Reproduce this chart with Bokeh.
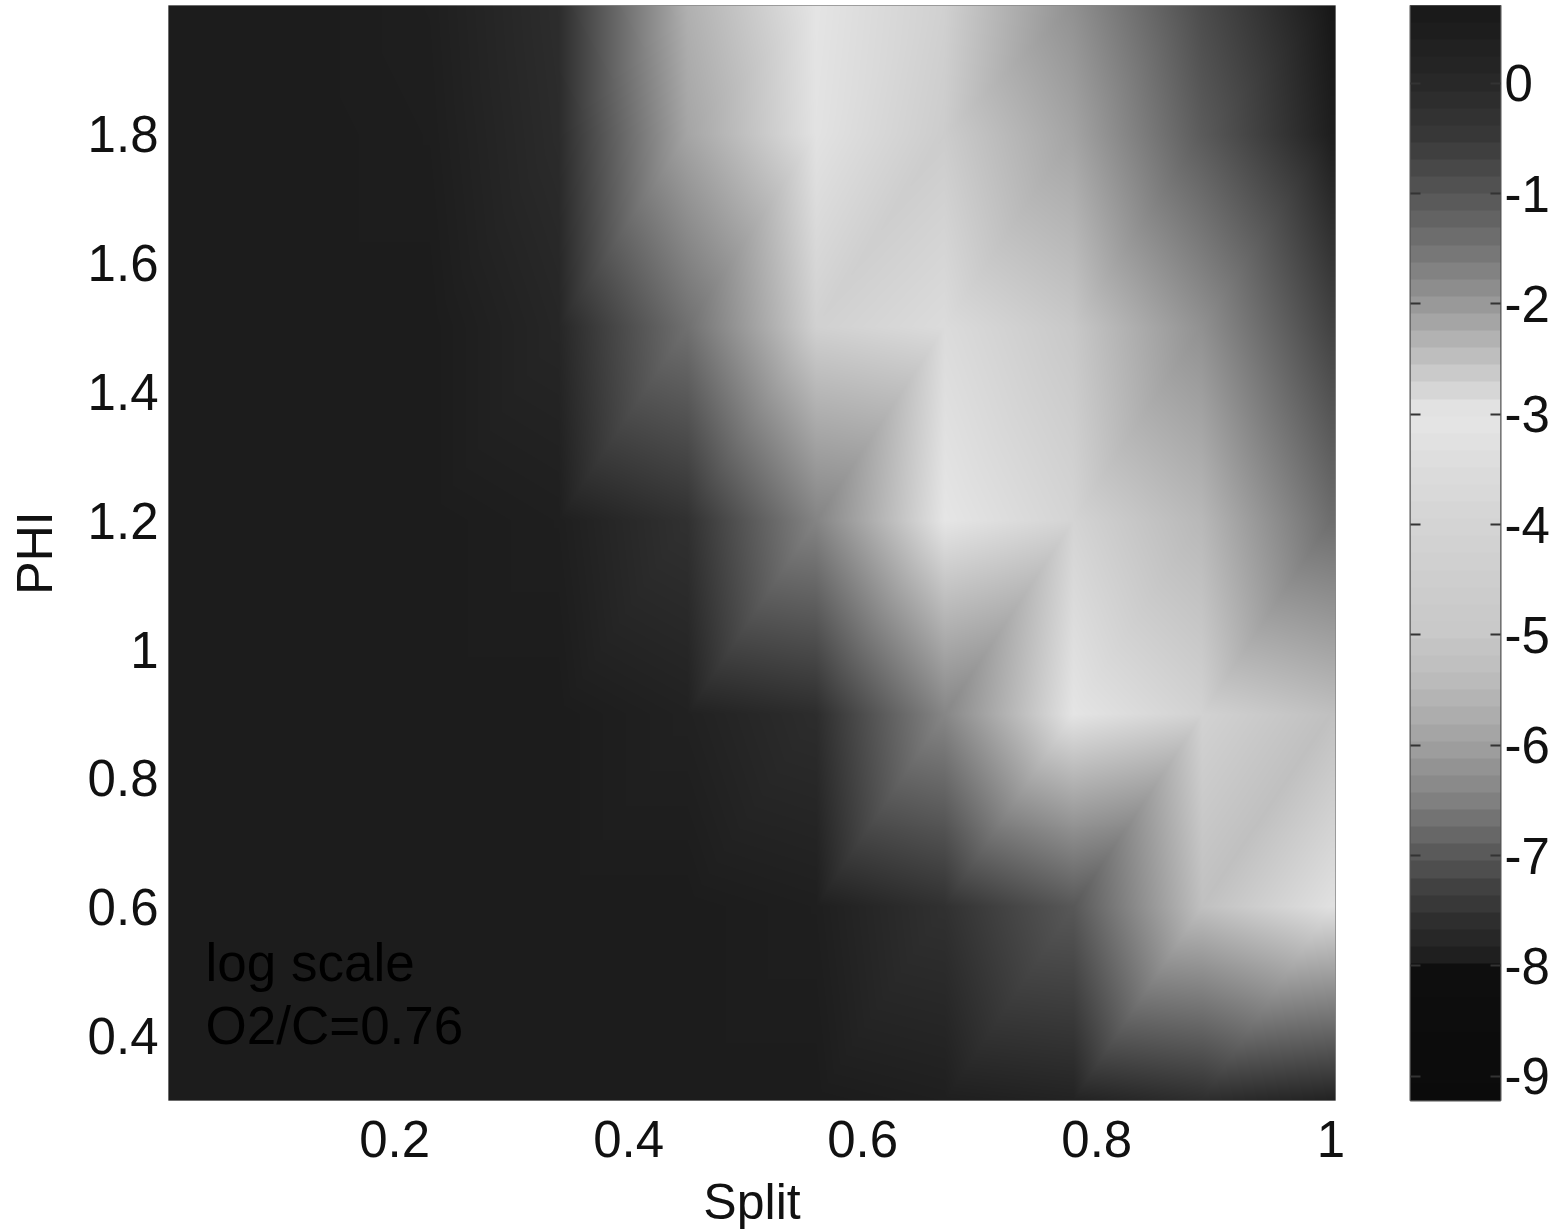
import numpy as np
from bokeh.plotting import figure
from bokeh.layouts import row
from bokeh.models import LinearColorMapper, FixedTicker, LinearAxis, Label, Range1d
from bokeh.embed import file_html
from bokeh.resources import INLINE

# Grid of the surface: log10 values read at the nodes
split_nodes = [0.01, 0.12, 0.23, 0.34, 0.45, 0.56, 0.67, 0.78, 0.89, 1.0]
phi_nodes = [0.3, 0.6, 0.9, 1.2, 1.5, 1.8, 2.0]
log_phi_03 = [-7.96, -7.96, -7.96, -7.96, -7.96, -7.96, -7.90, -7.82, -7.60, -7.82]
log_phi_06 = [-7.96, -7.96, -7.96, -7.96, -7.96, -7.90, -7.55, -7.00, -5.25, -3.30]
log_phi_09 = [-7.96, -7.96, -7.96, -7.96, -7.85, -7.62, -6.40, -3.10, -4.20, -2.50]
log_phi_12 = [-7.96, -7.96, -7.96, -7.90, -7.55, -6.44, -3.05, -2.75, -2.40, -1.40]
log_phi_15 = [-7.96, -7.96, -7.96, -7.75, -6.70, -4.30, -2.85, -2.60, -1.90, -0.70]
log_phi_18 = [-7.96, -7.96, -7.92, -7.65, -5.90, -3.20, -2.65, -2.15, -1.10, 0.40]
log_phi_20 = [-7.96, -7.96, -7.90, -7.62, -5.67, -3.10, -2.70, -1.90, -0.85, 0.70]
z_rows = [log_phi_03, log_phi_06, log_phi_09, log_phi_12, log_phi_15, log_phi_18, log_phi_20]

x_ticks = [0.2, 0.4, 0.6, 0.8, 1.0]
x_tick_labels = ["0.2", "0.4", "0.6", "0.8", "1"]
y_ticks = [0.4, 0.6, 0.8, 1.0, 1.2, 1.4, 1.6, 1.8]
y_tick_labels = ["0.4", "0.6", "0.8", "1", "1.2", "1.4", "1.6", "1.8"]
cbar_ticks = [0, -1, -2, -3, -4, -5, -6, -7, -8, -9]
cbar_tick_labels = ["0", "-1", "-2", "-3", "-4", "-5", "-6", "-7", "-8", "-9"]

# Colour ramp: value -> grey level
ramp_values = [-9.22, -8.02, -8.00, -7.6, -7.3, -7.0, -6.5, -6.0, -5.5, -5.0, -4.5, -4.0, -3.5, -3.0,
               -2.7, -2.3, -2.0, -1.5, -1.0, -0.5, 0.0, 0.705]
ramp_greys = [0x0b, 0x0e, 0x1a, 0x2e, 0x40, 0x58, 0x80, 0xa0, 0xb8, 0xc8, 0xce, 0xd4, 0xdc, 0xe6,
              0xd0, 0xb0, 0x98, 0x74, 0x55, 0x38, 0x28, 0x18]
V_LOW, V_HIGH = -9.22, 0.705

FONT = "Liberation Sans"
TEXT = "#111111"
X0, X1 = 0.0068, 1.004
Y0, Y1 = 0.3, 2.0
FW, FH = 1167, 1097


def palette(n):
    v = V_LOW + (np.arange(n) + 0.5) / n * (V_HIGH - V_LOW)
    g = np.interp(v, ramp_values, ramp_greys).round().astype(int)
    return ["#%02x%02x%02x" % (k, k, k) for k in g]


def gouraud(xn, yn, z, px, py):
    """Shade the grid as two triangles per cell, split from lower left to upper right."""
    xn, yn, z = np.array(xn), np.array(yn), np.array(z)
    xs = np.clip(px, xn[0], xn[-1])
    ys = np.clip(py, yn[0], yn[-1])
    i = np.clip(np.searchsorted(xn, xs) - 1, 0, len(xn) - 2)
    j = np.clip(np.searchsorted(yn, ys) - 1, 0, len(yn) - 2)
    u = (xs - xn[i]) / (xn[i + 1] - xn[i])
    v = (ys - yn[j]) / (yn[j + 1] - yn[j])
    U, V = np.meshgrid(u, v)
    I, J = np.meshgrid(i, j)
    z00, z10, z01, z11 = z[J, I], z[J, I + 1], z[J + 1, I], z[J + 1, I + 1]
    return np.where(U >= V, z00 + U * (z10 - z00) + V * (z11 - z10),
                    z00 + V * (z01 - z00) + U * (z11 - z01))


mapper = LinearColorMapper(palette=palette(64), low=V_LOW, high=V_HIGH)
# The surface blends the node colours (true-colour shading), not the values
grey_mapper = LinearColorMapper(palette=["#%02x%02x%02x" % (k, k, k) for k in range(256)], low=0, high=255)

px = X0 + (np.arange(FW) + 0.5) / FW * (X1 - X0)
py = Y0 + (np.arange(FH) + 0.5) / FH * (Y1 - Y0)
node_greys = np.interp(np.array(z_rows), ramp_values, ramp_greys)
surface = gouraud(split_nodes, phi_nodes, node_greys, px, py)

p = figure(width=1390, height=1227, x_range=Range1d(X0, X1), y_range=Range1d(Y0, Y1),
           output_backend="svg", toolbar_location=None, tools="",
           min_border_left=168, min_border_right=55, min_border_top=0, min_border_bottom=125,
           margin=(5, 0, 0, 0), outline_line_color="#888888", outline_line_width=1)
p.grid.visible = False
p.image(image=[surface], x=X0, y=Y0, dw=X1 - X0, dh=Y1 - Y0, color_mapper=grey_mapper)

for ax, ticks, labels in ((p.xaxis[0], x_ticks, x_tick_labels), (p.yaxis[0], y_ticks, y_tick_labels)):
    ax.ticker = FixedTicker(ticks=ticks)
    ax.major_label_overrides = dict(zip(ticks, labels))
    ax.axis_line_color = None
    ax.major_tick_in = 0
    ax.major_tick_out = 0
    ax.minor_tick_in = 0
    ax.minor_tick_out = 0
    ax.major_label_text_font = FONT
    ax.major_label_text_font_size = "51px"
    ax.major_label_text_color = TEXT
    ax.axis_label_text_font = FONT
    ax.axis_label_text_font_size = "50px"
    ax.axis_label_text_font_style = "normal"
    ax.axis_label_text_color = TEXT

p.xaxis[0].axis_label = "Split"
p.yaxis[0].axis_label = "PHI"
p.xaxis[0].major_label_standoff = 20
p.yaxis[0].major_label_standoff = 10
p.xaxis[0].axis_label_standoff = 14
p.yaxis[0].axis_label_standoff = 22

for txt, yy in (("log scale", 0.515), ("O2/C=0.76", 0.416)):
    p.add_layout(Label(x=0.0384, y=yy, text=txt, text_font=FONT, text_font_size="53px",
                       text_color="#000000", text_baseline="alphabetic"))

# Colour bar: 64 bands
band = V_LOW + (np.arange(64) + 0.5) / 64 * (V_HIGH - V_LOW)
cb = figure(width=164, height=1227, x_range=Range1d(0, 1), y_range=Range1d(V_LOW, V_HIGH),
            output_backend="svg", toolbar_location=None, tools="",
            min_border_left=20, min_border_right=54, min_border_top=0, min_border_bottom=125,
            margin=(5, 0, 0, 0), outline_line_color="#555555", outline_line_width=2,
            x_axis_location=None, y_axis_location="right")
cb.grid.visible = False
cb.image(image=[np.repeat(band[:, None], 4, axis=1).repeat(17, axis=0)], x=0, y=V_LOW, dw=1, dh=V_HIGH - V_LOW,
         color_mapper=mapper)
right = cb.yaxis[0]
right.ticker = FixedTicker(ticks=cbar_ticks)
right.major_label_overrides = dict(zip(cbar_ticks, cbar_tick_labels))
right.axis_line_color = None
right.major_tick_in = 10
right.major_tick_out = 0
right.minor_tick_in = 0
right.minor_tick_out = 0
right.major_tick_line_color = "#333333"
right.major_tick_line_width = 2
right.major_label_standoff = 4
right.major_label_text_font = FONT
right.major_label_text_font_size = "51px"
right.major_label_text_color = TEXT
left = LinearAxis(ticker=FixedTicker(ticks=cbar_ticks), major_label_overrides={t: "" for t in cbar_ticks},
                  axis_line_color=None, major_tick_in=10, major_tick_out=0, minor_tick_in=0,
                  minor_tick_out=0, major_tick_line_color="#333333", major_tick_line_width=2,
                  major_label_standoff=0)
cb.add_layout(left, "left")

page = row(p, cb, spacing=0)
open("out.html", "w").write(file_html(page, INLINE))
